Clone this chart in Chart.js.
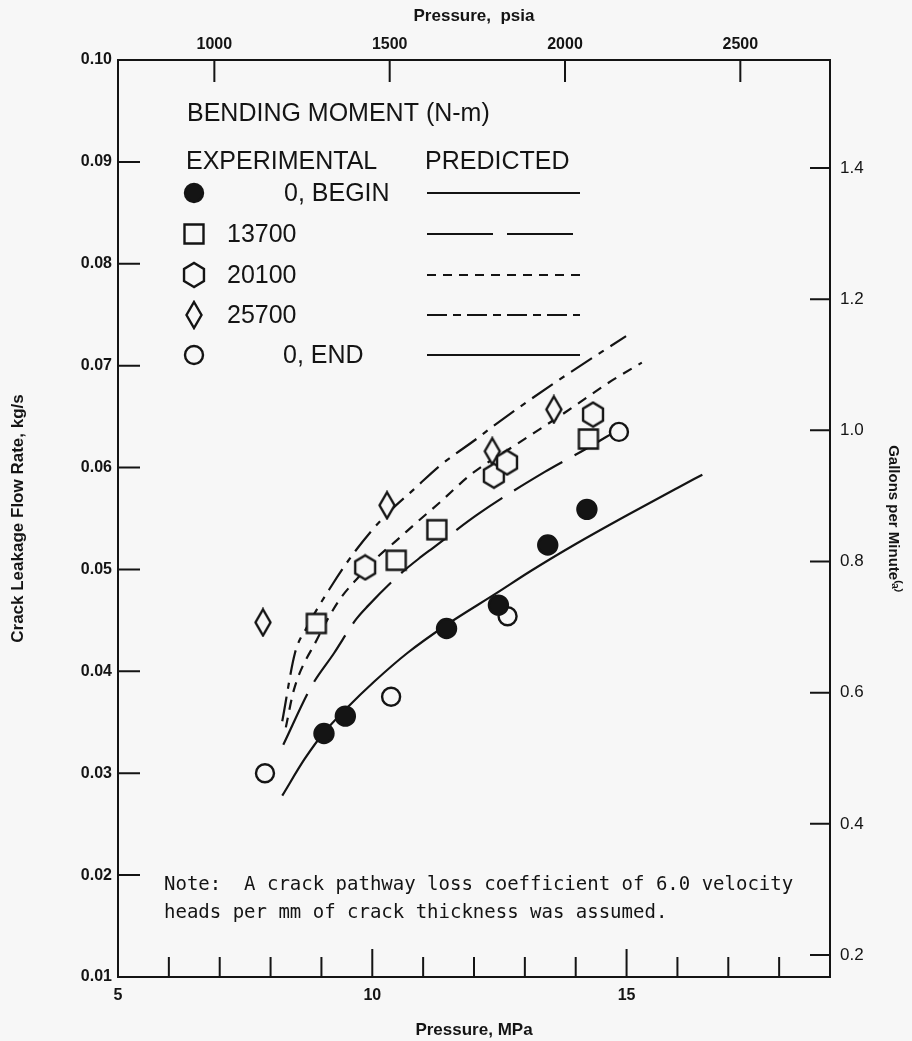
<!DOCTYPE html>
<html lang="en">
<head>
<meta charset="utf-8">
<title>Crack Leakage Flow Rate vs Pressure</title>
<style>
	html, body { margin: 0; padding: 0; background: #f7f7f7; }
	canvas { display: block; }
</style>
</head>
<body>
<canvas id="c1" width="912" height="1041"></canvas>
<script src="https://cdn.jsdelivr.net/npm/chart.js@4/dist/chart.umd.min.js"></script>
<script>
	// axes
	var mpaTicks = [5, 6, 7, 8, 9, 10, 11, 12, 13, 14, 15, 16, 17, 18, 19];
	var mpaLabels = [5, 10, 15];
	var psiTicks = [1000, 1500, 2000, 2500];
	var flowTicks = [0.01, 0.02, 0.03, 0.04, 0.05, 0.06, 0.07, 0.08, 0.09, 0.10];
	var gpmTicks = [0.2, 0.4, 0.6, 0.8, 1.0, 1.2, 1.4];
	var psiPerMpa = 145.038;
	var gpmMin = 0.1665, gpmMax = 1.5647;   // right axis at 0.01 and 0.10 kg/s

	// experimental points
	var beginX = [9.05, 9.47, 11.46, 12.48, 13.45, 14.22];
	var beginY = [0.0339, 0.0356, 0.0442, 0.0465, 0.0524, 0.0559];
	var m13700X = [8.90, 10.47, 11.27, 14.25];
	var m13700Y = [0.0447, 0.0509, 0.0539, 0.0628];
	var m20100X = [9.86, 12.39, 12.65, 14.34];
	var m20100Y = [0.0502, 0.0592, 0.0605, 0.0652];
	var m25700X = [7.85, 10.29, 12.36, 13.57];
	var m25700Y = [0.0448, 0.0563, 0.0616, 0.0657];
	var endX = [7.89, 10.37, 12.66, 14.85];
	var endY = [0.0300, 0.0375, 0.0454, 0.0635];

	// predicted curves
	var pred0X = [8.23, 8.67, 9.05, 9.5, 10.04, 10.69, 11.47, 12.45, 13.1, 14.0, 15.0, 16.0, 16.49];
	var pred0Y = [0.0278, 0.0314, 0.0340, 0.0364, 0.0390, 0.0418, 0.0446, 0.0477, 0.0498, 0.0525, 0.0553, 0.0580, 0.0593];
	var pred13700X = [8.25, 8.80, 9.25, 9.68, 9.91, 10.56, 10.95, 11.19, 12.10, 13.40, 14.19, 14.8];
	var pred13700Y = [0.0328, 0.0385, 0.0418, 0.0451, 0.0464, 0.0496, 0.0512, 0.0521, 0.0555, 0.0596, 0.0618, 0.0636];
	var pred20100X = [8.3, 8.46, 8.93, 9.12, 9.38, 9.74, 10.10, 10.49, 10.87, 11.31, 11.96, 12.81, 13.79, 14.70, 15.30];
	var pred20100Y = [0.0345, 0.0382, 0.0433, 0.0451, 0.0472, 0.0493, 0.0512, 0.0529, 0.0546, 0.0565, 0.0594, 0.0622, 0.0654, 0.0685, 0.0703];
	var pred25700X = [8.23, 8.48, 8.70, 9.20, 9.65, 10.22, 10.87, 11.31, 12.10, 12.36, 13.58, 14.99];
	var pred25700Y = [0.0351, 0.0418, 0.0442, 0.0484, 0.0517, 0.0551, 0.0581, 0.0601, 0.0630, 0.0640, 0.0683, 0.0729];

	var legendTitle = 'BENDING MOMENT (N-m)';
	var legendNames = ['0, BEGIN', '13700', '20100', '25700', '0, END'];
	var noteLines = [
		'Note:  A crack pathway loss coefficient of 6.0 velocity',
		'heads per mm of crack thickness was assumed.'
	];
</script>
<script>
	var ink = '#141414';
	var paper = '#f7f7f7';

	function xy(xs, ys) {
		return xs.map(function(x, i) { return {x: x, y: ys[i]}; });
	}

	function symbol(w, h, path) {
		var c = document.createElement('canvas');
		c.width = w; c.height = h;
		var g = c.getContext('2d');
		g.beginPath();
		path(g);
		g.closePath();
		g.fillStyle = paper;
		g.fill();
		g.lineWidth = 2.4;
		g.lineJoin = 'miter';
		g.strokeStyle = ink;
		g.stroke();
		return c;
	}
	var squareImg = symbol(24, 24, function(g) { g.rect(2.5, 2.5, 19, 19); });
	var hexImg = symbol(26, 28, function(g) {
		for (var k = 0; k < 6; k++) {
			var t = Math.PI / 2 + k * Math.PI / 3;
			var px = 13 + 11.5 * Math.cos(t), py = 14 + 12 * Math.sin(t);
			if (k == 0) g.moveTo(px, py); else g.lineTo(px, py);
		}
	});
	var diamondImg = symbol(20, 30, function(g) {
		g.moveTo(10, 2); g.lineTo(17.5, 15); g.lineTo(10, 28); g.lineTo(2.5, 15);
	});

	var dashes = {
		solid: [],
		long: [56, 14],
		short: [10, 8],
		dashdot: [25, 8, 6, 8]
	};
	var legendDashes = [[], [66, 14], [9, 7], [20, 6, 8, 6], []];

	function markerSet(label, data, style, fill, r) {
		return {
			label: label, data: data, pointStyle: style, pointRadius: r || 9,
			pointBackgroundColor: fill, pointBorderColor: ink, pointBorderWidth: 2.4, showLine: false
		};
	}
	function curveSet(label, data, dash) {
		return {
			label: label, data: data, showLine: true, pointRadius: 0,
			borderColor: ink, borderWidth: 2.2, borderDash: dash,
			cubicInterpolationMode: 'monotone', fill: false
		};
	}

	var inwardTicks = {
		id: 'inwardTicks',
		afterDraw: function(chart) {
			var ctx = chart.ctx, a = chart.chartArea, s = chart.scales;
			ctx.save();
			ctx.strokeStyle = ink;
			ctx.lineWidth = 2;
			ctx.beginPath();
			mpaTicks.forEach(function(v) {
				if (v == mpaTicks[0] || v == mpaTicks[mpaTicks.length - 1]) return;
				var px = s.x.getPixelForValue(v);
				var len = mpaLabels.includes(v) ? 28 : 20;
				ctx.moveTo(px, a.bottom); ctx.lineTo(px, a.bottom - len);
			});
			psiTicks.forEach(function(v) {
				var px = s.x2.getPixelForValue(v);
				ctx.moveTo(px, a.top); ctx.lineTo(px, a.top + 22);
			});
			flowTicks.forEach(function(v, i) {
				if (i == 0 || i == flowTicks.length - 1) return;
				var py = s.y.getPixelForValue(v);
				ctx.moveTo(a.left, py); ctx.lineTo(a.left + 22, py);
			});
			gpmTicks.forEach(function(v) {
				var py = s.y2.getPixelForValue(v);
				ctx.moveTo(a.right, py); ctx.lineTo(a.right - 20, py);
			});
			ctx.stroke();
			ctx.restore();
		}
	};

	var legendNote = {
		id: 'legendNote',
		beforeDraw: function(chart) {
			var ctx = chart.ctx;
			ctx.save();
			ctx.fillStyle = paper;
			ctx.fillRect(0, 0, chart.width, chart.height);
			ctx.restore();
		},
		afterDraw: function(chart) {
			var ctx = chart.ctx, a = chart.chartArea;
			var x0 = a.left;
			ctx.save();
			ctx.fillStyle = ink;
			ctx.textBaseline = 'middle';
			ctx.font = '25px "Liberation Sans", Arial, sans-serif';
			ctx.fillText(legendTitle, x0 + 69, 114);
			ctx.fillText('EXPERIMENTAL', x0 + 68, 162);
			ctx.fillText('PREDICTED', x0 + 307, 162);

			var rows = [193, 234, 275, 315, 355];
			var textX = [284, 227, 227, 227, 283];
			var symX = x0 + 76;
			rows.forEach(function(y, i) {
				ctx.fillStyle = ink;
				ctx.fillText(legendNames[i], textX[i], y + 1);
				if (i == 0 || i == 4) {
					ctx.beginPath();
					ctx.arc(symX, y, 9, 0, 2 * Math.PI);
					ctx.fillStyle = i == 0 ? ink : paper;
					ctx.fill();
					ctx.lineWidth = 2.4;
					ctx.strokeStyle = ink;
					ctx.stroke();
				} else {
					var img = [null, squareImg, hexImg, diamondImg][i];
					ctx.drawImage(img, Math.round(symX - img.width / 2), Math.round(y - img.height / 2));
				}
				ctx.beginPath();
				ctx.setLineDash(legendDashes[i]);
				ctx.lineWidth = 2.2;
				ctx.strokeStyle = ink;
				ctx.moveTo(x0 + 309, y);
				ctx.lineTo(x0 + 462, y);
				ctx.stroke();
				ctx.setLineDash([]);
			});

			ctx.fillStyle = ink;
			ctx.font = '19px "DejaVu Sans Mono", "Liberation Mono", monospace';
			noteLines.forEach(function(t, i) {
				ctx.fillText(t, x0 + 46, 885 + i * 28);
			});
			ctx.restore();
		}
	};

	var tickFont = {family: '"Liberation Sans", Arial, sans-serif', size: 16, weight: 'bold'};
	var titleFont = {family: '"Liberation Sans", Arial, sans-serif', size: 17, weight: 'bold'};

	var config = {
		type: 'scatter',
		data: {
			datasets: [
				markerSet('0, BEGIN', xy(beginX, beginY), 'circle', ink, 9.5),
				markerSet('13700', xy(m13700X, m13700Y), squareImg, paper),
				markerSet('20100', xy(m20100X, m20100Y), hexImg, paper),
				markerSet('25700', xy(m25700X, m25700Y), diamondImg, paper),
				markerSet('0, END', xy(endX, endY), 'circle', paper, 9),
				curveSet('predicted 0', xy(pred0X, pred0Y), dashes.solid),
				curveSet('predicted 13700', xy(pred13700X, pred13700Y), dashes.long),
				curveSet('predicted 20100', xy(pred20100X, pred20100Y), dashes.short),
				curveSet('predicted 25700', xy(pred25700X, pred25700Y), dashes.dashdot)
			]
		},
		options: {
			responsive: false,
			animation: false,
			devicePixelRatio: 1,
			layout: {padding: 0, autoPadding: false},
			plugins: {
				legend: {display: false},
				tooltip: {enabled: false}
			},
			scales: {
				x: {
					type: 'linear', position: 'bottom',
					min: mpaTicks[0], max: mpaTicks[mpaTicks.length - 1],
					afterBuildTicks: function(s) { s.ticks = mpaTicks.map(function(v) { return {value: v}; }); },
					afterFit: function(s) { s.height = 64; },
					grid: {display: false, drawTicks: false},
					border: {display: true, color: ink, width: 2},
					ticks: {
						autoSkip: false, maxRotation: 0, padding: 9, color: ink, font: tickFont,
						callback: function(v) { return mpaLabels.includes(v) ? String(v) : ''; }
					},
					title: {display: true, text: 'Pressure, MPa', color: ink, font: titleFont, padding: {top: 0, bottom: 0}}
				},
				x2: {
					type: 'linear', position: 'top',
					min: mpaTicks[0] * psiPerMpa, max: mpaTicks[mpaTicks.length - 1] * psiPerMpa,
					afterBuildTicks: function(s) { s.ticks = psiTicks.map(function(v) { return {value: v}; }); },
					afterFit: function(s) { s.height = 60; },
					grid: {display: false, drawTicks: false},
					border: {display: true, color: ink, width: 2},
					ticks: {
						autoSkip: false, maxRotation: 0, padding: 6, color: ink, font: tickFont,
						callback: function(v) { return String(v); }
					},
					title: {display: true, text: 'Pressure,  psia', color: ink, font: titleFont, padding: {top: 6, bottom: 0}}
				},
				y: {
					type: 'linear', position: 'left',
					min: flowTicks[0], max: flowTicks[flowTicks.length - 1],
					afterBuildTicks: function(s) { s.ticks = flowTicks.map(function(v) { return {value: v}; }); },
					afterFit: function(s) { s.width = 118; },
					grid: {display: false, drawTicks: false},
					border: {display: true, color: ink, width: 2},
					ticks: {
						autoSkip: false, padding: 6, color: ink, font: tickFont,
						callback: function(v) { return v.toFixed(2); }
					},
					title: {display: true, text: 'Crack Leakage Flow Rate, kg/s', color: ink, font: {family: titleFont.family, size: 17, weight: 'bold'}, padding: {top: 8, bottom: 0}}
				},
				y2: {
					type: 'linear', position: 'right',
					min: gpmMin, max: gpmMax,
					afterBuildTicks: function(s) { s.ticks = gpmTicks.map(function(v) { return {value: v}; }); },
					afterFit: function(s) { s.width = 82; },
					grid: {display: false, drawTicks: false},
					border: {display: true, color: ink, width: 2},
					ticks: {
						autoSkip: false, padding: 10, color: ink,
						font: {family: '"Liberation Sans", Arial, sans-serif', size: 17},
						callback: function(v) { return v.toFixed(1); }
					},
					title: {display: true, text: 'Gallons per Minute\u207D\u1D43\u207E', color: ink, font: {family: titleFont.family, size: 15, weight: 'bold'}, padding: {top: 10, bottom: 0}}
				}
			}
		},
		plugins: [inwardTicks, legendNote]
	};

	var chart = new Chart(document.getElementById('c1'), config);
</script>
</body>
</html>
